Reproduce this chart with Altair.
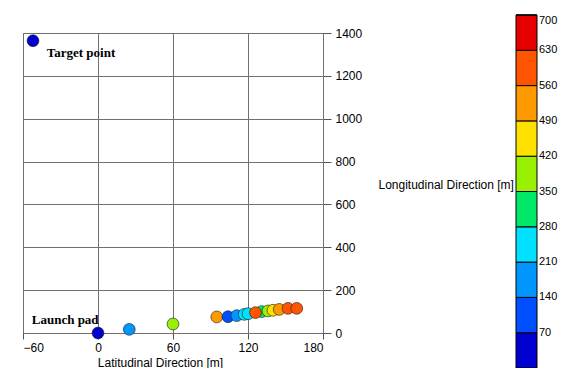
import altair as alt
import pandas as pd

# data
lat = [-52, 0, 25, 60, 95, 104, 111, 117, 120, 131, 136, 140, 145, 126, 152, 159]
lon = [1364, 0, 17, 42, 75, 76, 81, 87, 90, 100, 103, 106, 110, 95, 115, 115]
val = [30, 10, 180, 380, 520, 110, 180, 240, 260, 320, 390, 450, 520, 600, 590, 610]

labels = ["Target point", "Launch pad"]
label_x = [-41, -53]
label_y = [1306, 60]

bins = [0, 70, 140, 210, 280, 350, 420, 490, 560, 630, 700]
colors = ["#0000D0", "#0050FF", "#0096FF", "#00E0FF", "#00E868",
          "#99F000", "#FFE100", "#FF9900", "#FF5500", "#E60000"]

pts = pd.DataFrame({"lat": lat, "lon": lon, "val": val, "order": range(len(lat))})
ann = pd.DataFrame({"text": labels, "x": label_x, "y": label_y})

xscale = alt.Scale(domain=[-60, 180], nice=False, zero=False)
yscale = alt.Scale(domain=[0, 1400], nice=False, zero=False)

points = alt.Chart(pts).mark_circle(size=140, opacity=1, stroke="#1a1a1a", strokeWidth=0.6).encode(
    x=alt.X("lat:Q", scale=xscale,
            axis=alt.Axis(values=[-60, 0, 60, 120, 180], title="Latitudinal Direction [m]",
                          tickSize=6, labelPadding=3, titleX=137, titleY=29,
                          titleBaseline="middle", titleAlign="center")),
    y=alt.Y("lon:Q", scale=yscale,
            axis=alt.Axis(orient="right", values=list(range(0, 1401, 200)), format="d",
                          title="Longitudinal Direction [m]", titleAngle=0,
                          titleAlign="left", titleBaseline="middle",
                          titleX=55, titleY=151, tickSize=8, labelPadding=4)),
    color=alt.Color("val:Q",
                    scale=alt.Scale(type="quantize", domain=[0, 700], range=colors, nice=False, zero=False),
                    legend=alt.Legend(type="gradient", title=None, orient="none", legendX=493, legendY=-18,
                                      direction="vertical", gradientLength=353,
                                      gradientThickness=21, gradientStrokeColor="#000000",
                                      gradientStrokeWidth=1, values=bins, format="d",
                                      labelFontSize=11, labelOffset=2, padding=0,
                                      labelOverlap=False)),
    order="order:Q",
)

text = alt.Chart(ann).mark_text(align="left", baseline="middle", font="Liberation Serif",
                                fontWeight="bold", fontSize=13, color="black").encode(
    x=alt.X("x:Q", scale=xscale),
    y=alt.Y("y:Q", scale=yscale),
    text="text:N",
)

chart = alt.layer(points, text).properties(
    width=300, height=300,
    autosize=alt.AutoSizeParams(type="none"),
    padding={"left": 15, "top": 25, "right": 236, "bottom": 35},
).configure_view(stroke="#707070", strokeWidth=1).configure_axis(
    gridColor="#707070", gridOpacity=1, gridWidth=1,
    domainColor="#707070", tickColor="#555555",
    labelFont="Liberation Sans", labelFontSize=12, labelColor="black",
    titleFont="Liberation Sans", titleFontSize=12, titleFontWeight="normal", titleColor="black",
).configure_legend(labelFont="Liberation Sans", labelColor="black",
                   gradientLength=353, gradientVerticalMaxLength=400)

chart.save("out.html", embed_options={"renderer": "svg", "actions": False})
